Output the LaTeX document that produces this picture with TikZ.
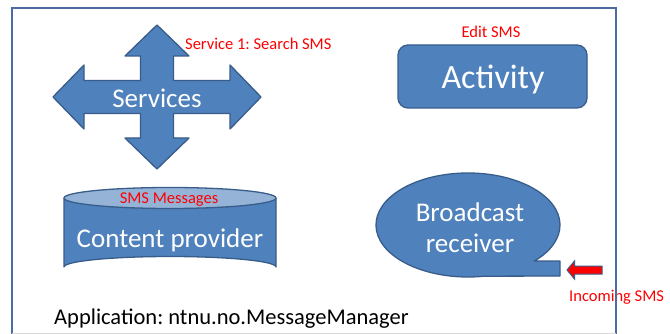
\documentclass[tikz,border=0pt]{standalone}
\usepackage{fontspec}
\setmainfont{Carlito}
\frenchspacing
\definecolor{shapefill}{HTML}{4F81BD}
\definecolor{shapeline}{HTML}{385D8A}
\definecolor{cyltop}{HTML}{95B3D7}
\definecolor{framecol}{HTML}{4A6C9E}
\definecolor{redtext}{HTML}{FF0000}
\tikzset{
  blueshape/.style={fill=shapefill, draw=shapeline, line width=1.3pt, line join=round},
  whitelabel/.style={text=white, inner sep=0pt, font=\fontsize{27}{30}\selectfont},
  redlabel/.style={text=redtext, inner sep=0pt, font=\fontsize{16.5}{19}\selectfont},
}
\begin{document}
\begin{tikzpicture}[x=1pt,y=-1pt]
\useasboundingbox (0,0) rectangle (670,334);
\fill[white] (0,0) rectangle (670,334);

% Services cross arrow
\draw[blueshape] (157,25) -- (189,56) -- (173.5,56) -- (173.5,80.5) -- (230,80.5) -- (230,65)
  -- (261,97) -- (230,129) -- (230,113.5) -- (173.5,113.5) -- (173.5,138) -- (189,138)
  -- (157,169) -- (125,138) -- (140.5,138) -- (140.5,113.5) -- (84,113.5) -- (84,129)
  -- (53,97) -- (84,65) -- (84,80.5) -- (140.5,80.5) -- (140.5,56) -- (125,56) -- cycle;
\node[whitelabel] (services) at (157,98) {Services};
\node[redlabel, anchor=west] (svc1) at (185,44) {Service 1: Search SMS};

% Activity
\draw[blueshape, rounded corners=10pt] (398,45) rectangle (587,108);
\node[whitelabel, font=\fontsize{34}{38}\selectfont] (activity) at (493,79) {Activity};
\node[redlabel] (editsms) at (491,32) {Edit SMS};

% Content provider cylinder
\draw[blueshape] (64,198) -- (64,267) arc[start angle=180, end angle=360, x radius=106, y radius=10.5]
  -- (276,198);
\draw[blueshape, fill=cyltop] (170,198) ellipse[x radius=106, y radius=10.5];
\node[redlabel] (smsmsg) at (169,200) {SMS Messages};
\node[whitelabel] (content) at (170,240) {Content provider};

% Broadcast receiver callout
\draw[blueshape] (468,225) ++(44:92 and 52) coordinate (tabtop)
  arc[start angle=44, end angle=-280, x radius=92, y radius=52]
  -- (560,276) -- (560,261) -- (534,261) -- cycle;
\node[whitelabel] (broadcast) at (470,212) {Broadcast};
\node[whitelabel] (receiver) at (470,243) {receiver};

% Incoming arrow
\draw[fill=red, draw=shapeline, line width=1pt, line join=miter]
  (567,270) -- (574.5,261) -- (574.5,266) -- (602,266) -- (602,274) -- (574.5,274) -- (574.5,279) -- cycle;
\node[redlabel, anchor=west] (incoming) at (569,297) {Incoming SMS};

% Application label
\node[anchor=west, inner sep=0pt, font=\fontsize{22.5}{26}\selectfont] (app) at (54,319) {Application: ntnu.no.MessageManager};

% Frame
\draw[framecol, line width=2pt] (12,345) -- (12,8) -- (616,8) -- (616,345);
\draw[black!15, line width=0.8pt] (12,333.5) -- (616,333.5);
\end{tikzpicture}
\end{document}
